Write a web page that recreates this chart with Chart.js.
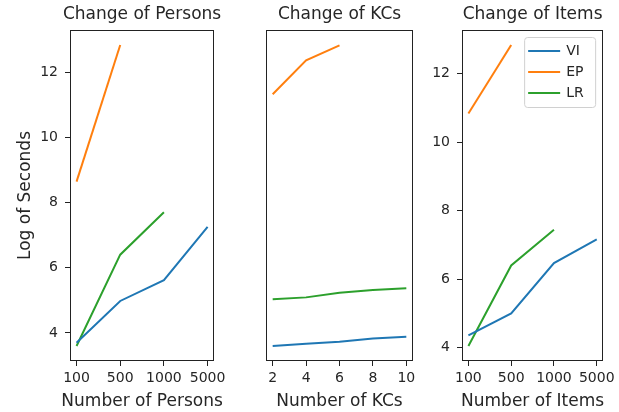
<!DOCTYPE html>
<html>
<head>
<meta charset="utf-8">
<script src="https://cdn.jsdelivr.net/npm/chart.js@4.4.0/dist/chart.umd.min.js"></script>
<style>
  body { margin: 0; background: #fff; }
  #wrap { position: relative; width: 619px; height: 412px; }
  canvas { position: absolute; top: 0; }
</style>
</head>
<body>
<div id="wrap">
  <canvas id="persons-chart" width="230" height="412" style="left:0px"></canvas>
  <canvas id="kcs-chart" width="190" height="412" style="left:230px"></canvas>
  <canvas id="items-chart" width="199" height="412" style="left:420px"></canvas>
</div>
<script>
// ================== data ======================
const seriesNames = ["VI", "EP", "LR"];
const seriesColors = ["#1f77b4", "#ff7f0e", "#2ca02c"];
const yTicks = [4, 6, 8, 10, 12];

const personsLabels = ["100", "500", "1000", "5000"];
const personsVI = [3.7, 4.98, 5.62, 7.25];
const personsEP = [8.64, 12.83];
const personsLR = [3.6, 6.4, 7.7];

const kcsLabels = [2, 4, 6, 8, 10];
const kcsVI = [3.6, 3.67, 3.73, 3.83, 3.88];
const kcsEP = [11.32, 12.36, 12.82];
const kcsLR = [5.03, 5.09, 5.23, 5.32, 5.37];

const itemsLabels = ["100", "500", "1000", "5000"];
const itemsVI = [4.36, 5.0, 6.47, 7.16];
const itemsEP = [10.83, 12.83];
const itemsLR = [4.05, 6.4, 7.44];

Chart.defaults.font.family = "'DejaVu Sans', sans-serif";
Chart.defaults.color = "#262626";

// matplotlib style 5% margins
function limits(values) {
  const lo = Math.min(...values);
  const hi = Math.max(...values);
  const m = (hi - lo) * 0.05;
  return [lo - m, hi + m];
}

function points(xs, ys) {
  return ys.map((y, i) => ({ x: xs[i], y: y }));
}

function makeDatasets(xs, groups) {
  return groups.map((ys, i) => ({
    label: seriesNames[i],
    data: points(xs, ys),
    borderColor: seriesColors[i],
    backgroundColor: seriesColors[i],
    borderWidth: 2,
    pointRadius: 0,
    tension: 0,
    fill: false,
  }));
}

// draw the full frame round the plot area
const boxPlugin = {
  id: "box",
  afterDatasetsDraw(chart) {
    const a = chart.chartArea;
    const ctx = chart.ctx;
    ctx.save();
    ctx.strokeStyle = "#222";
    ctx.lineWidth = 1;
    ctx.strokeRect(Math.round(a.left) + 0.5, Math.round(a.top) + 0.5,
      Math.round(a.right - a.left) - 1, Math.round(a.bottom - a.top) - 1);
    ctx.restore();
  },
};

// panel title and x caption, centred on the plot area and allowed to be wider than it
const captions = {
  id: "captions",
  afterDraw(chart, args, opts) {
    const ctx = chart.ctx;
    const a = chart.chartArea;
    const cx = (a.left + a.right) / 2;
    ctx.save();
    ctx.font = "17px 'DejaVu Sans'";
    ctx.fillStyle = "#262626";
    ctx.textAlign = "center";
    ctx.textBaseline = "middle";
    ctx.fillText(opts.title, cx, 15);
    ctx.fillText(opts.xTitle, cx, 401.5);
    ctx.restore();
  },
};

// legend inside the upper right corner
const innerLegend = {
  id: "innerLegend",
  afterDraw(chart) {
    const ctx = chart.ctx;
    const a = chart.chartArea;
    const x = a.right - 79;
    const y = a.top + 7;
    ctx.save();
    ctx.fillStyle = "rgba(255,255,255,0.85)";
    ctx.strokeStyle = "#d0d0d0";
    ctx.lineWidth = 1;
    ctx.beginPath();
    ctx.roundRect(x + 0.5, y + 0.5, 71, 70, 3);
    ctx.fill();
    ctx.stroke();
    ctx.font = "14px 'DejaVu Sans'";
    ctx.textBaseline = "middle";
    chart.data.datasets.forEach((ds, i) => {
      const ry = y + 14 + i * 21;
      ctx.strokeStyle = ds.borderColor;
      ctx.lineWidth = 2;
      ctx.beginPath();
      ctx.moveTo(x + 4, ry);
      ctx.lineTo(x + 36, ry);
      ctx.stroke();
      ctx.fillStyle = "#262626";
      ctx.fillText(ds.label, x + 42, ry);
    });
    ctx.restore();
  },
};

function makeOptions(cfg) {
  const tickGrid = {
    drawOnChartArea: false,
    drawTicks: true,
    tickLength: 5,
    color: "#222",
    lineWidth: 1,
  };
  return {
    responsive: false,
    animation: false,
    layout: { padding: { left: cfg.padLeft, right: cfg.padRight, top: 30, bottom: 0 } },
    scales: {
      x: {
        type: "linear",
        min: cfg.xMin,
        max: cfg.xMax,
        grid: tickGrid,
        border: { display: false },
        afterBuildTicks: (scale) => {
          scale.ticks = cfg.xTicks.map((v) => ({ value: v }));
        },
        afterFit: (scale) => {
          scale.height = 51;
        },
        ticks: {
          padding: 4,
          maxRotation: 0,
          font: { size: 14 },
          callback: cfg.xLabel,
        },
      },
      y: {
        display: cfg.yShow,
        min: cfg.yMin,
        max: cfg.yMax,
        grid: tickGrid,
        border: { display: false },
        afterBuildTicks: (scale) => {
          scale.ticks = yTicks.map((v) => ({ value: v }));
        },
        afterFit: (scale) => {
          scale.width = cfg.yWidth;
        },
        ticks: { padding: 7, font: { size: 14 } },
        title: {
          display: !!cfg.yTitle,
          text: cfg.yTitle || "",
          font: { size: 17 },
          padding: { top: 15, bottom: 0 },
        },
      },
    },
    plugins: {
      legend: { display: false },
      tooltip: { enabled: false },
      captions: { title: cfg.title, xTitle: cfg.xTitle },
    },
  };
}

// persons and KCs share the y range
const sharedY = limits([...personsVI, ...personsEP, ...personsLR, ...kcsVI, ...kcsEP, ...kcsLR]);
const itemsY = limits([...itemsVI, ...itemsEP, ...itemsLR]);
const catIdx = personsLabels.map((_, i) => i);

// ================== persons ======================
new Chart(document.getElementById("persons-chart"), {
  type: "line",
  data: { datasets: makeDatasets(catIdx, [personsVI, personsEP, personsLR]) },
  options: makeOptions({
    title: "Change of Persons",
    xTitle: "Number of Persons",
    yTitle: "Log of Seconds",
    xMin: -0.15, xMax: 3.15,
    xTicks: catIdx,
    xLabel: (v) => personsLabels[v],
    yShow: true, yWidth: 70,
    yMin: sharedY[0], yMax: sharedY[1],
    padLeft: 0, padRight: 13,
  }),
  plugins: [boxPlugin, captions],
});

// ================== KCs ======================
new Chart(document.getElementById("kcs-chart"), {
  type: "line",
  data: { datasets: makeDatasets(kcsLabels, [kcsVI, kcsEP, kcsLR]) },
  options: makeOptions({
    title: "Change of KCs",
    xTitle: "Number of KCs",
    xMin: 1.6, xMax: 10.4,
    xTicks: kcsLabels,
    xLabel: (v) => String(v),
    yShow: false, yWidth: 0,
    yMin: sharedY[0], yMax: sharedY[1],
    padLeft: 36, padRight: 7,
  }),
  plugins: [boxPlugin, captions],
});

// ================== items ======================
new Chart(document.getElementById("items-chart"), {
  type: "line",
  data: { datasets: makeDatasets(catIdx, [itemsVI, itemsEP, itemsLR]) },
  options: makeOptions({
    title: "Change of Items",
    xTitle: "Number of Items",
    xMin: -0.15, xMax: 3.15,
    xTicks: catIdx,
    xLabel: (v) => itemsLabels[v],
    yShow: true, yWidth: 42,
    yMin: itemsY[0], yMax: itemsY[1],
    padLeft: 0, padRight: 10,
  }),
  plugins: [boxPlugin, captions, innerLegend],
});
</script>
</body>
</html>
